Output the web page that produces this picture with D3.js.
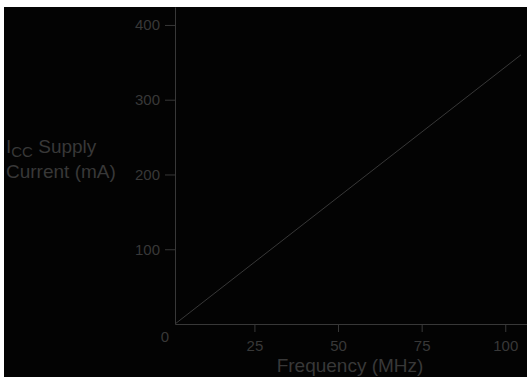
<!DOCTYPE html>
<html><head><meta charset="utf-8">
<script src="https://cdn.jsdelivr.net/npm/d3@7"></script>
<style>
html,body{margin:0;padding:0;background:#fff;}
svg{display:block;font-family:"Liberation Sans",Arial,Helvetica,sans-serif;}
</style></head>
<body>
<svg id="chart" width="527" height="377"></svg>
<script>
// Data
const frequency = [1.25, 104.7];      // MHz
const supplyCurrent = [0, 360];       // mA
const xTicks = [25, 50, 75, 100];
const yTicks = [100, 200, 300, 400];
const xDomain = [1.25, 106.5];
const yDomain = [0, 424];

const W = 527, H = 377;
const fg = "#383838";
const svg = d3.select("#chart");

svg.append("rect").attr("x", 4).attr("y", 7).attr("width", W - 4).attr("height", H - 7).attr("fill", "#030303");

const x = d3.scaleLinear().domain(xDomain).range([175, 527]);
const y = d3.scaleLinear().domain(yDomain).range([324, 7]);

// X axis
const xAxis = svg.append("g").attr("transform", `translate(0,${y(0)})`)
  .call(d3.axisBottom(x).tickValues(xTicks).tickSize(8).tickPadding(8).tickSizeOuter(0));
xAxis.select(".domain").attr("stroke", fg);
xAxis.selectAll(".tick line").attr("stroke", fg);
xAxis.selectAll(".tick text").attr("fill", fg).attr("font-size", 15).attr("font-family", null);

// Y axis
const yAxis = svg.append("g").attr("transform", `translate(${x(xDomain[0])},0)`)
  .call(d3.axisLeft(y).tickValues(yTicks).tickSize(10).tickPadding(5).tickSizeOuter(0));
yAxis.select(".domain").attr("stroke", fg);
yAxis.selectAll(".tick line").attr("stroke", fg);
yAxis.selectAll(".tick text").attr("fill", fg).attr("font-size", 15).attr("font-family", null);

// Origin label
svg.append("text").attr("x", 165).attr("y", y(0) + 18).attr("text-anchor", "middle")
  .attr("font-size", 15).attr("fill", fg).text("0");

// Line
const pts = frequency.map((f, i) => [f, supplyCurrent[i]]);
svg.append("path").datum(pts)
  .attr("d", d3.line().x(d => x(d[0])).y(d => y(d[1])))
  .attr("fill", "none").attr("stroke", fg).attr("stroke-width", 1);

// Axis titles
svg.append("text").attr("x", 350).attr("y", 372).attr("text-anchor", "middle")
  .attr("font-size", 19).attr("fill", fg).text("Frequency (MHz)");

const t1 = svg.append("text").attr("x", 6).attr("y", 153).attr("font-size", 19).attr("fill", fg);
t1.append("tspan").text("I");
t1.append("tspan").attr("font-size", 15).attr("dy", 4).text("CC");
t1.append("tspan").attr("dy", -4).text(" Supply");
svg.append("text").attr("x", 6).attr("y", 178).attr("font-size", 19).attr("fill", fg).text("Current (mA)");
</script>
</body></html>
